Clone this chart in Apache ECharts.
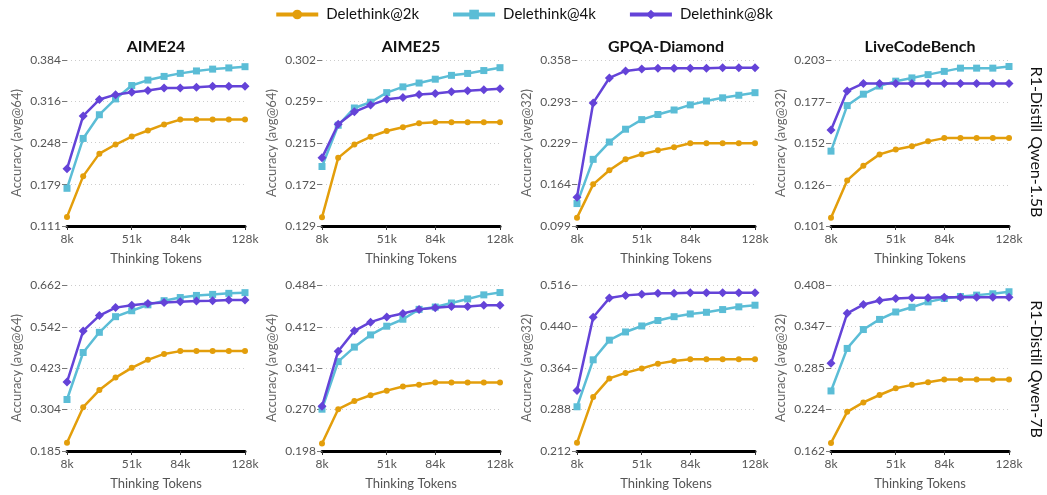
<!DOCTYPE html>
<html>
<head>
<meta charset="utf-8">
<script src="https://cdn.jsdelivr.net/npm/echarts@6/dist/echarts.min.js"></script>
<style>
  html, body { margin: 0; padding: 0; background: #fff; }
  #chart { width: 1047px; height: 495px; }
</style>
</head>
<body>
<div id="chart"></div>
<script>
// x positions: 12 budgets from 8k to 128k, labels shown only at 8k / 51k / 84k / 128k
const tokens = ['8k', '18k', '29k', '40k', '51k', '62k', '73k', '84k', '95k', '106k', '117k', '128k']
const shownTokens = ['8k', '51k', '84k', '128k']

const benchmarks = ['AIME24', 'AIME25', 'GPQA-Diamond', 'LiveCodeBench']
const accNames = ['Accuracy (avg@64)', 'Accuracy (avg@64)', 'Accuracy (avg@32)', 'Accuracy (avg@32)']
const models = ['R1-Distill Qwen-1.5B', 'R1-Distill Qwen-7B']
const seriesNames = ['Delethink@2k', 'Delethink@4k', 'Delethink@8k']

// y tick labels per panel (row 1 = 1.5B, row 2 = 7B)
const yTicks15b = [
  [0.111, 0.179, 0.248, 0.316, 0.384],
  [0.129, 0.172, 0.215, 0.259, 0.302],
  [0.099, 0.164, 0.229, 0.293, 0.358],
  [0.101, 0.126, 0.152, 0.177, 0.203]
]
const yTicks7b = [
  [0.185, 0.304, 0.423, 0.542, 0.662],
  [0.198, 0.270, 0.341, 0.412, 0.484],
  [0.212, 0.288, 0.364, 0.440, 0.516],
  [0.162, 0.224, 0.285, 0.347, 0.408]
]

// R1-Distill Qwen-1.5B
const aime24_15b_2k = [0.126, 0.193, 0.230, 0.245, 0.258, 0.268, 0.278, 0.286, 0.286, 0.286, 0.286, 0.286]
const aime24_15b_4k = [0.173, 0.255, 0.294, 0.320, 0.342, 0.351, 0.357, 0.362, 0.366, 0.369, 0.371, 0.373]
const aime24_15b_8k = [0.205, 0.292, 0.319, 0.327, 0.331, 0.334, 0.338, 0.338, 0.339, 0.341, 0.341, 0.341]

const aime25_15b_2k = [0.138, 0.200, 0.214, 0.222, 0.228, 0.232, 0.236, 0.237, 0.237, 0.237, 0.237, 0.237]
const aime25_15b_4k = [0.191, 0.234, 0.252, 0.258, 0.268, 0.274, 0.278, 0.282, 0.286, 0.288, 0.291, 0.294]
const aime25_15b_8k = [0.200, 0.235, 0.248, 0.255, 0.261, 0.263, 0.266, 0.267, 0.269, 0.270, 0.271, 0.272]

const gpqa_15b_2k = [0.112, 0.164, 0.186, 0.203, 0.211, 0.217, 0.222, 0.228, 0.228, 0.228, 0.228, 0.228]
const gpqa_15b_4k = [0.134, 0.203, 0.230, 0.250, 0.265, 0.273, 0.280, 0.288, 0.294, 0.299, 0.303, 0.307]
const gpqa_15b_8k = [0.144, 0.291, 0.330, 0.341, 0.344, 0.345, 0.345, 0.345, 0.345, 0.346, 0.346, 0.346]

const lcb_15b_2k = [0.106, 0.129, 0.138, 0.145, 0.148, 0.150, 0.153, 0.155, 0.155, 0.155, 0.155, 0.155]
const lcb_15b_4k = [0.147, 0.175, 0.182, 0.187, 0.190, 0.192, 0.194, 0.196, 0.198, 0.198, 0.198, 0.199]
const lcb_15b_8k = [0.160, 0.184, 0.1886, 0.1886, 0.1886, 0.1886, 0.1886, 0.1886, 0.1886, 0.1886, 0.1886, 0.1886]

// R1-Distill Qwen-7B
const aime24_7b_2k = [0.209, 0.311, 0.360, 0.396, 0.424, 0.447, 0.464, 0.472, 0.472, 0.472, 0.472, 0.472]
const aime24_7b_4k = [0.333, 0.468, 0.526, 0.571, 0.588, 0.605, 0.617, 0.626, 0.632, 0.635, 0.638, 0.640]
const aime24_7b_8k = [0.383, 0.530, 0.574, 0.597, 0.604, 0.609, 0.612, 0.614, 0.616, 0.617, 0.619, 0.619]

const aime25_7b_2k = [0.211, 0.270, 0.284, 0.294, 0.302, 0.309, 0.312, 0.316, 0.316, 0.316, 0.316, 0.316]
const aime25_7b_4k = [0.270, 0.352, 0.377, 0.398, 0.413, 0.425, 0.442, 0.446, 0.453, 0.460, 0.467, 0.471]
const aime25_7b_8k = [0.275, 0.370, 0.405, 0.420, 0.429, 0.435, 0.442, 0.445, 0.447, 0.447, 0.449, 0.449]

const gpqa_7b_2k = [0.227, 0.311, 0.345, 0.355, 0.363, 0.372, 0.377, 0.380, 0.380, 0.380, 0.380, 0.380]
const gpqa_7b_4k = [0.293, 0.379, 0.415, 0.430, 0.441, 0.451, 0.458, 0.463, 0.466, 0.471, 0.476, 0.479]
const gpqa_7b_8k = [0.323, 0.457, 0.492, 0.497, 0.499, 0.501, 0.501, 0.502, 0.502, 0.502, 0.502, 0.502]

const lcb_7b_2k = [0.174, 0.220, 0.234, 0.245, 0.255, 0.260, 0.264, 0.268, 0.268, 0.268, 0.268, 0.268]
const lcb_7b_4k = [0.251, 0.314, 0.342, 0.357, 0.368, 0.375, 0.383, 0.388, 0.391, 0.393, 0.395, 0.398]
const lcb_7b_8k = [0.292, 0.366, 0.379, 0.385, 0.388, 0.389, 0.389, 0.390, 0.390, 0.390, 0.390, 0.390]

const panelData = [
  [aime24_15b_2k, aime24_15b_4k, aime24_15b_8k],
  [aime25_15b_2k, aime25_15b_4k, aime25_15b_8k],
  [gpqa_15b_2k, gpqa_15b_4k, gpqa_15b_8k],
  [lcb_15b_2k, lcb_15b_4k, lcb_15b_8k],
  [aime24_7b_2k, aime24_7b_4k, aime24_7b_8k],
  [aime25_7b_2k, aime25_7b_4k, aime25_7b_8k],
  [gpqa_7b_2k, gpqa_7b_4k, gpqa_7b_8k],
  [lcb_7b_2k, lcb_7b_4k, lcb_7b_8k]
]
const panelTicks = yTicks15b.concat(yTicks7b)

const colors = ['#E39E0B', '#5BBDD6', '#6443D8']
const symbols = ['circle', 'rect', 'diamond']
const symbolSizes = [6, 7, 9]

const FONT = 'Lato'
const colLeft = [67, 322, 577, 831]
const rowTop = [60, 285]
const plotW = 178
const plotH = 166

const chart = echarts.init(document.getElementById('chart'), null, { renderer: 'canvas' })

const grid = [], xAxis = [], yAxis = [], series = [], graphic = []

for (let p = 0; p < 8; p++) {
  const row = Math.floor(p / 4)
  const col = p % 4
  const ticks = panelTicks[p]
  grid.push({ left: colLeft[col], top: rowTop[row], width: plotW, height: plotH })
  xAxis.push({
    type: 'category',
    gridIndex: p,
    data: tokens,
    boundaryGap: false,
    name: 'Thinking Tokens',
    nameLocation: 'middle',
    nameGap: 26,
    nameTextStyle: { fontFamily: FONT, fontSize: 13, color: '#555' },
    axisLine: { show: true, lineStyle: { color: '#000', width: 3 } },
    axisTick: {
      show: true,
      length: 4,
      lineStyle: { color: '#333', width: 1 },
      interval: (i, v) => shownTokens.includes(v)
    },
    axisLabel: {
      fontFamily: FONT,
      fontSize: 12,
      color: '#555',
      margin: 7,
      interval: (i, v) => shownTokens.includes(v)
    },
    splitLine: { show: false }
  })
  yAxis.push({
    type: 'value',
    gridIndex: p,
    min: ticks[0],
    max: ticks[ticks.length - 1],
    name: accNames[col],
    nameLocation: 'middle',
    nameGap: 44,
    nameTextStyle: { fontFamily: FONT, fontSize: 13, color: '#666' },
    axisLine: { show: false },
    axisTick: { show: true, length: 5, lineStyle: { color: '#777' }, customValues: ticks },
    axisLabel: {
      fontFamily: FONT,
      fontSize: 12,
      color: '#555',
      margin: 6,
      customValues: ticks,
      formatter: v => v.toFixed(3)
    },
    splitLine: { show: true, lineStyle: { color: '#ccc', type: [1, 3], width: 1 } }
  })
  for (let s = 0; s < 3; s++) {
    series.push({
      name: seriesNames[s],
      type: 'line',
      xAxisIndex: p,
      yAxisIndex: p,
      data: panelData[p][s],
      symbol: symbols[s],
      symbolSize: symbolSizes[s],
      showAllSymbol: true,
      clip: false,
      color: colors[s],
      lineStyle: { width: 2.5, color: colors[s] },
      itemStyle: { color: colors[s] },
      z: 2 + s
    })
  }
  if (row === 0) {
    graphic.push({
      type: 'text',
      x: colLeft[col] + plotW / 2,
      y: 47,
      style: {
        text: benchmarks[col],
        fontFamily: FONT,
        fontSize: 16,
        fontWeight: 'bold',
        fill: '#111',
        textAlign: 'center',
        textVerticalAlign: 'middle'
      }
    })
  }
}

models.forEach((m, i) => {
  graphic.push({
    type: 'text',
    x: 1036,
    y: i === 0 ? 142 : 369,
    rotation: -Math.PI / 2,
    style: {
      text: m,
      fontFamily: FONT,
      fontSize: 16,
      fill: '#111',
      textAlign: 'center',
      textVerticalAlign: 'middle'
    }
  })
})

const option = {
  animation: false,
  backgroundColor: '#fff',
  legend: {
    data: seriesNames,
    top: 2,
    left: 'center',
    itemWidth: 42,
    itemHeight: 12,
    itemGap: 32,
    lineStyle: { width: 4 },
    textStyle: { fontFamily: FONT, fontSize: 15, color: '#111', padding: [0, 0, 0, 3] }
  },
  grid,
  xAxis,
  yAxis,
  series,
  graphic
}

chart.setOption(option)
</script>
</body>
</html>
